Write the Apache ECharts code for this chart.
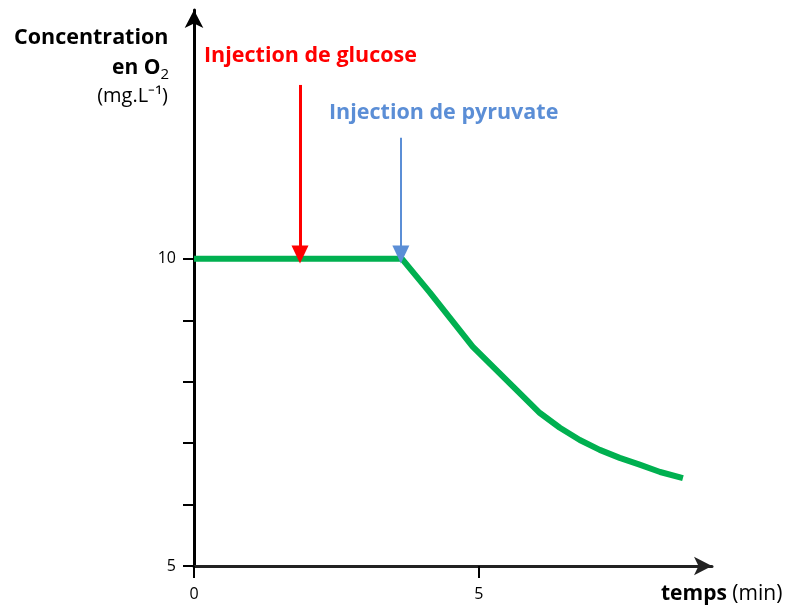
<!DOCTYPE html>
<html>
<head>
<meta charset="utf-8">
<script src="https://cdn.jsdelivr.net/npm/echarts@6/dist/echarts.min.js"></script>
<style>
  html, body { margin: 0; padding: 0; background: #fff; }
  #chart { width: 791px; height: 610px; }
</style>
</head>
<body>
<div id="chart"></div>
<script>
// temps (min) / concentration en O2 (mg.L-1)
const temps = [0, 3.65, 4.14, 4.89, 5.6, 6.07, 6.42, 6.77, 7.12, 7.47, 7.82, 8.18, 8.58];
const concentration = [10, 10, 9.45, 8.57, 7.92, 7.49, 7.25, 7.05, 6.89, 6.76, 6.65, 6.53, 6.43];
const yTicks = [5, 6, 7, 8, 9, 10];
const yLabels = [5, 10];
const xTicks = [0, 5];
const xLabels = [0, 5];
const glucoseArrow = [[1.86, 12.83], [1.86, 10.07]];
const pyruvateArrow = [[3.63, 11.97], [3.63, 10.07]];

const font = "'Open Sans', sans-serif";
const chart = echarts.init(document.getElementById("chart"));

const option = {
  animation: false,
  grid: { left: 194, right: 79, top: 10, bottom: 44 },
  xAxis: {
    type: "value",
    min: 0,
    max: 9.09,
    axisLine: {
      show: true,
      lineStyle: { color: "#222", width: 3 },
      symbol: ["none", "arrow"],
      symbolSize: [14, 18],
    },
    axisTick: {
      show: true,
      customValues: xTicks,
      length: 12,
      lineStyle: { color: "#000", width: 2 },
    },
    axisLabel: {
      customValues: xLabels,
      margin: 20,
      fontFamily: font,
      fontSize: 16,
      color: "#000",
    },
    splitLine: { show: false },
  },
  yAxis: {
    type: "value",
    min: 5,
    max: 14.05,
    axisLine: {
      show: true,
      onZero: false,
      lineStyle: { color: "#000", width: 3 },
      symbol: ["none", "arrow"],
      symbolSize: [14, 18],
    },
    axisTick: {
      show: true,
      customValues: yTicks,
      length: 11,
      lineStyle: { color: "#000", width: 2 },
    },
    axisLabel: {
      customValues: yLabels,
      margin: 18,
      fontFamily: font,
      fontSize: 16,
      color: "#000",
    },
    splitLine: { show: false },
  },
  series: [
    {
      type: "line",
      data: temps.map((t, i) => [t, concentration[i]]),
      symbol: "none",
      lineStyle: { color: "#00b050", width: 6 },
      z: 3,
      markLine: {
        silent: true,
        symbol: ["none", "triangle"],
        symbolSize: [17, 18],
        label: { show: false },
        data: [
          [
            { coord: glucoseArrow[0], lineStyle: { color: "#ff0000", width: 3, type: "solid" } },
            { coord: glucoseArrow[1] },
          ],
          [
            { coord: pyruvateArrow[0], lineStyle: { color: "#5b8ed6", width: 2, type: "solid" } },
            { coord: pyruvateArrow[1] },
          ],
        ],
      },
    },
  ],
  graphic: [
    {
      type: "text", left: 14, top: 27,
      style: { text: "Concentration", font: "bold 21.5px " + font, fill: "#000" },
    },
    {
      type: "text", right: 622, top: 58,
      style: {
        text: "{a|en O}{s|2}",
        rich: {
          a: { font: "bold 21px " + font, fill: "#000" },
          s: { font: "15px " + font, fill: "#000", verticalAlign: "bottom", padding: [12, 0, 0, 0] },
        },
      },
    },
    {
      type: "text", right: 623, top: 86,
      style: { text: "(mg.L\u207B\u00B9)", font: "20px " + font, fill: "#000" },
    },
    {
      type: "text", left: 204, top: 45,
      style: { text: "Injection de glucose", font: "bold 21.5px " + font, fill: "#ff0000" },
    },
    {
      type: "text", left: 329, top: 102,
      style: { text: "Injection de pyruvate", font: "bold 21.5px " + font, fill: "#5b8ed6" },
    },
    {
      type: "text", left: 661, top: 584,
      style: {
        text: "{b|temps}{n| (min)}",
        rich: {
          b: { font: "bold 21px " + font, fill: "#000" },
          n: { font: "21px " + font, fill: "#000" },
        },
      },
    },
  ],
};

chart.setOption(option);
</script>
</body>
</html>
